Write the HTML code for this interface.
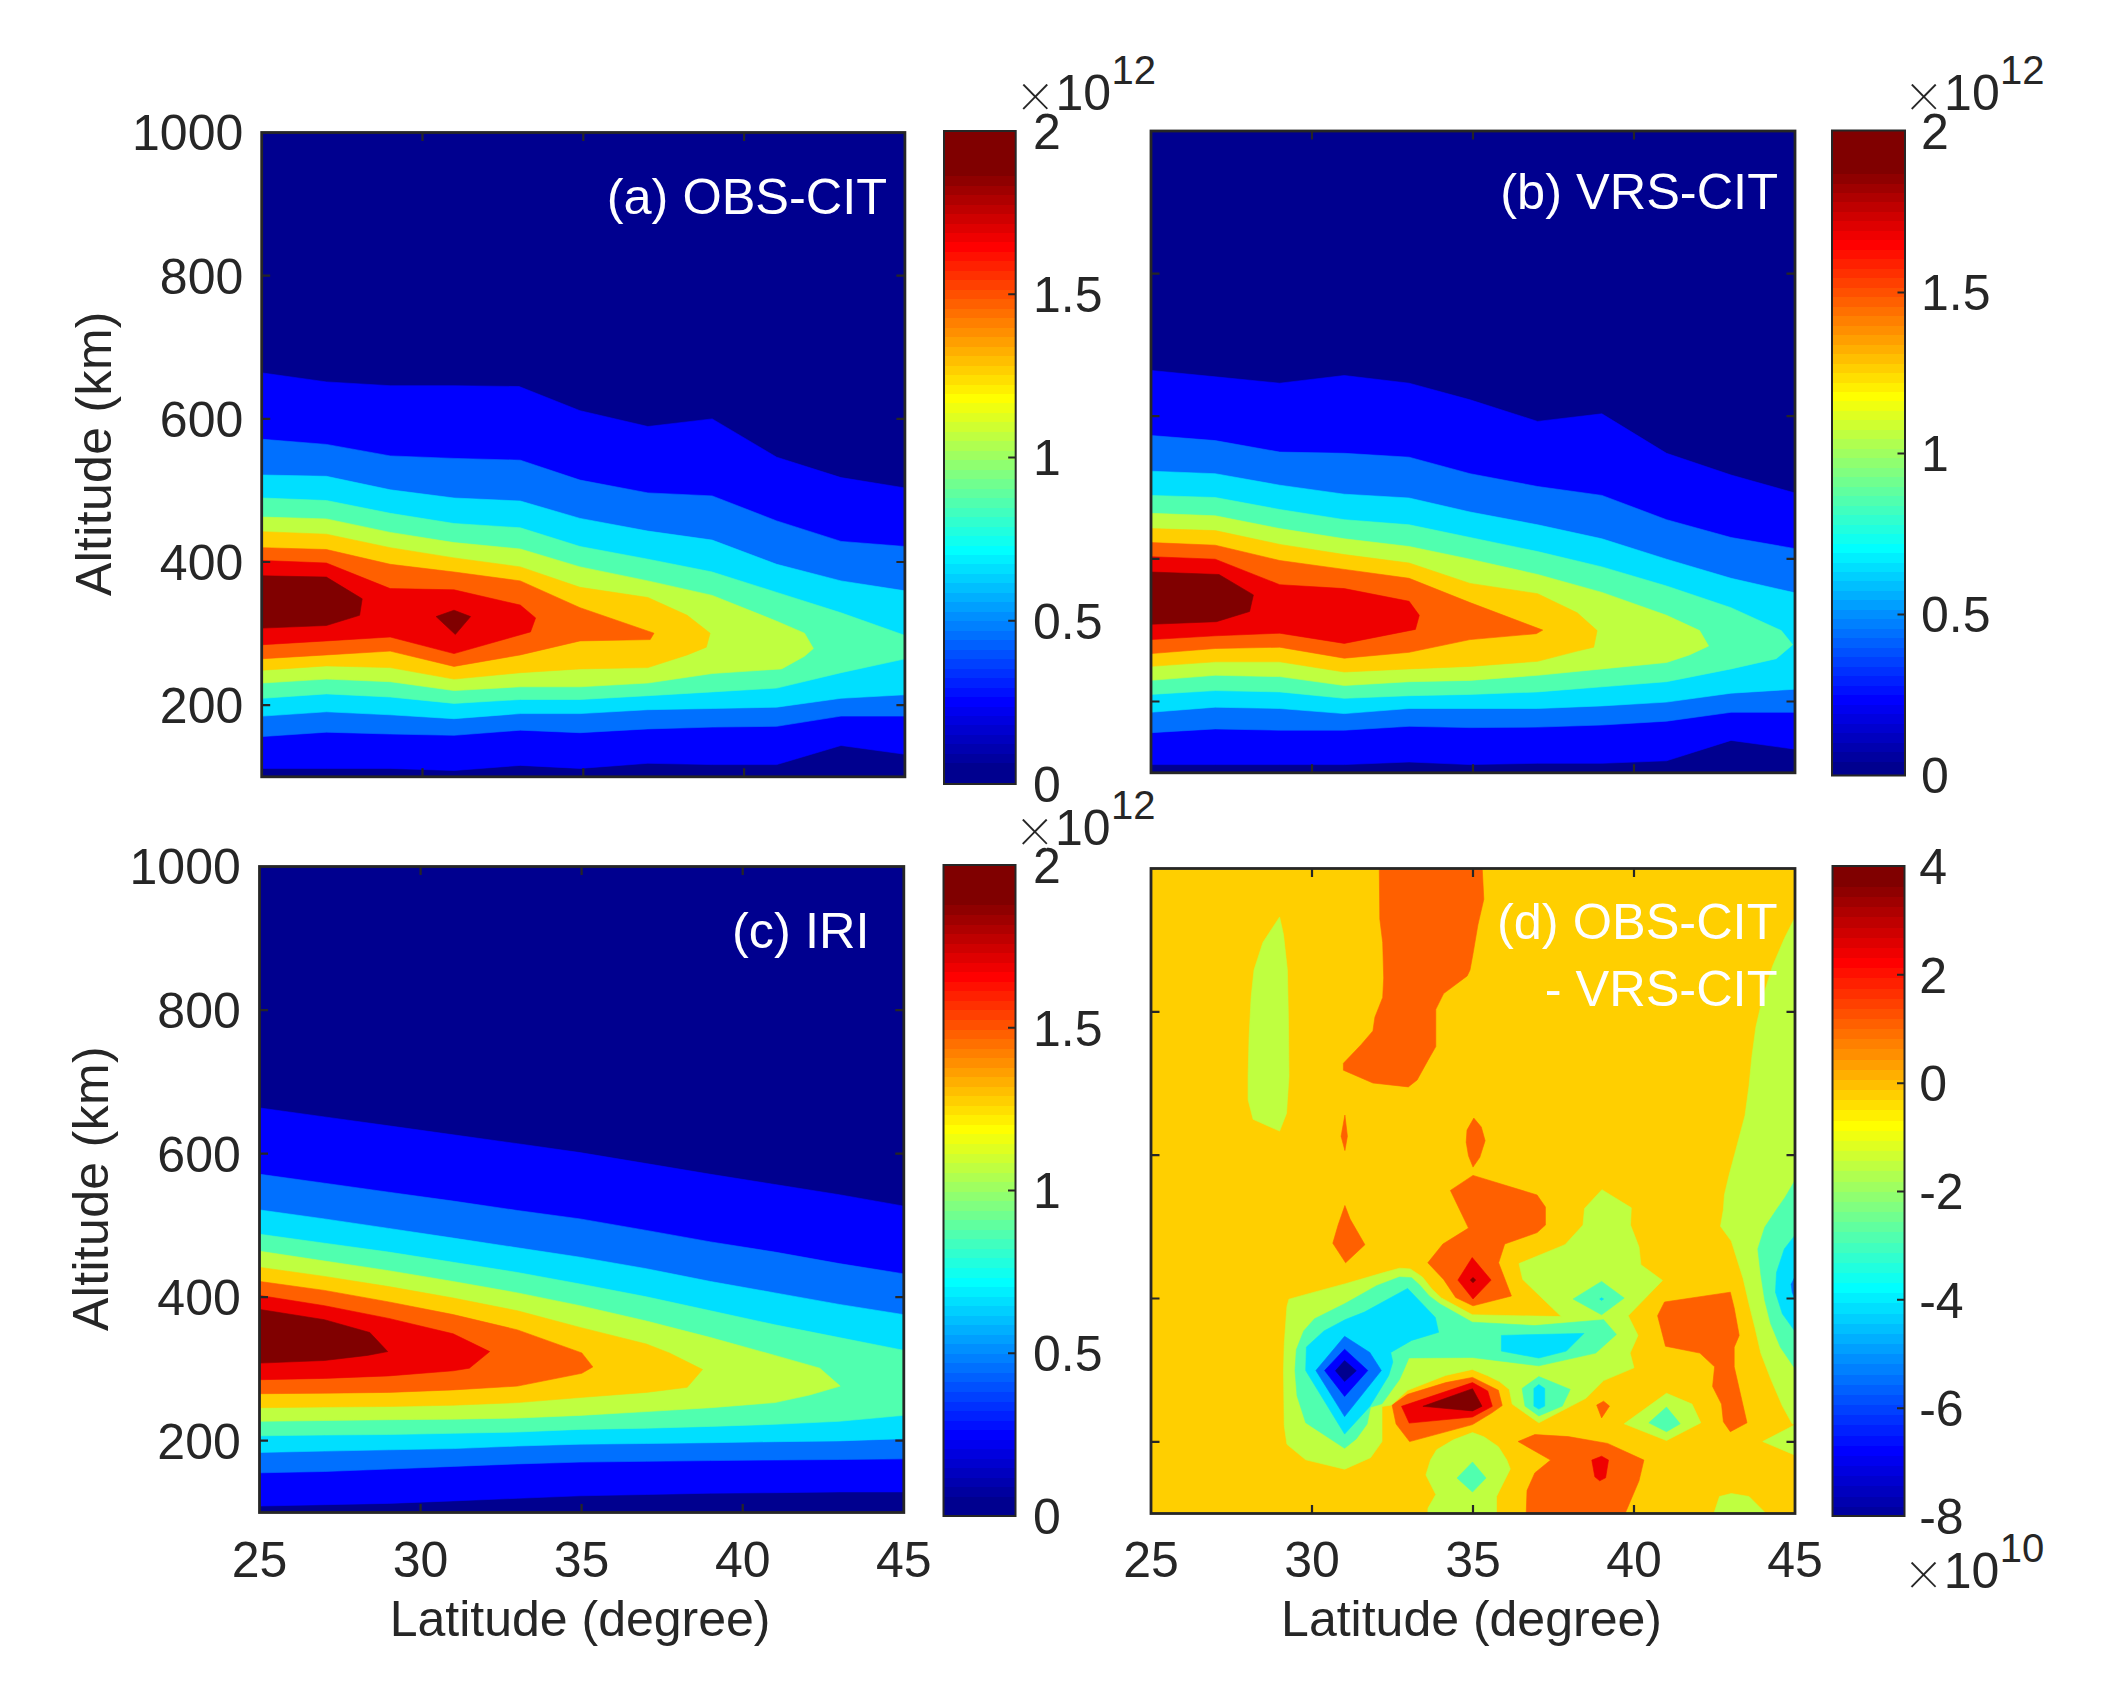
<!DOCTYPE html>
<html lang="en"><head><meta charset="utf-8"><title>Ionospheric electron density: OBS-CIT, VRS-CIT, IRI</title>
<style>html,body{margin:0;padding:0;background:#fff}svg{display:block}text{font-family:"Liberation Sans", Arial, sans-serif;font-size:50px;fill:#262626}</style></head><body>
<svg width="2123" height="1705" viewBox="0 0 2123 1705">
<rect width="2123" height="1705" fill="#fff"/>
<clipPath id="cpa"><rect x="261.7" y="132.5" width="643.2" height="644.3"/></clipPath>
<g clip-path="url(#cpa)" shape-rendering="geometricPrecision">
<rect x="261.7" y="132.5" width="643.2" height="644.3" fill="#00008F"/>
<polygon fill="#0000FF" stroke="#0000FF" stroke-width="0.6" points="242.2,372.5 262.7,373.0 326.4,381.9 390.2,385.7 454.0,385.7 519.1,386.5 580.0,410.7 647.9,426.5 712.2,418.9 776.7,457.2 841.0,477.6 911.7,489.0 911.7,755.2 841.0,745.5 776.7,764.6 712.2,764.6 647.9,763.3 580.0,768.4 520.3,765.4 454.0,770.5 390.2,768.4 326.4,768.4 262.7,768.4 242.2,768.4"/>
<polygon fill="#0070FF" stroke="#0070FF" stroke-width="0.6" points="242.2,438.8 262.7,439.3 326.4,444.4 390.2,455.9 454.0,458.4 520.3,460.2 580.0,480.1 647.9,492.9 712.2,495.9 776.7,520.9 841.0,541.4 911.7,547.0 911.7,716.1 841.0,716.1 776.7,726.3 712.2,727.1 647.9,728.9 580.0,732.7 520.3,730.2 454.0,735.3 390.2,734.0 326.4,732.2 262.7,736.5 242.2,736.8"/>
<polygon fill="#00DFFF" stroke="#00DFFF" stroke-width="0.6" points="242.2,474.5 262.7,475.0 326.4,476.3 390.2,489.8 454.0,498.0 520.3,501.0 580.0,518.4 647.9,531.1 712.2,540.1 776.7,564.3 841.0,580.9 911.7,591.9 911.7,694.4 841.0,698.3 776.7,707.2 712.2,708.5 647.9,709.7 580.0,713.6 520.3,713.6 454.0,718.7 390.2,714.8 326.4,711.8 262.7,716.1 242.2,716.4"/>
<polygon fill="#50FFAF" stroke="#50FFAF" stroke-width="0.6" points="242.2,497.5 262.7,498.0 326.4,500.5 390.2,513.3 454.0,523.5 520.3,527.8 580.0,546.5 647.9,559.2 712.2,572.0 776.7,592.4 841.0,612.8 911.7,637.8 911.7,657.4 841.0,672.7 776.7,688.1 712.2,691.9 647.9,695.7 580.0,699.5 520.3,699.5 454.0,703.4 390.2,697.0 326.4,693.9 262.7,698.3 242.2,698.5"/>
<polygon fill="#BFFF40" stroke="#BFFF40" stroke-width="0.6" points="242.2,516.9 262.7,517.1 326.4,518.9 390.2,532.4 454.0,542.6 520.3,549.0 580.0,566.9 647.9,580.9 712.2,595.4 776.7,621.2 804.5,633.2 813.4,648.5 804.5,656.2 781.6,668.9 712.2,673.5 647.9,683.0 580.0,686.8 520.3,686.8 454.0,690.6 390.2,681.7 326.4,679.1 262.7,683.0 242.2,683.2"/>
<polygon fill="#FFCF00" stroke="#FFCF00" stroke-width="0.6" points="242.2,531.4 262.7,531.7 326.4,534.2 390.2,547.7 454.0,557.9 520.3,566.9 580.0,587.3 647.9,597.5 687.2,615.3 710.1,633.2 706.3,647.2 687.2,654.9 647.9,667.6 580.0,668.9 520.3,672.7 454.0,679.1 390.2,667.6 326.4,665.9 262.7,670.2 242.2,670.4"/>
<polygon fill="#FF6000" stroke="#FF6000" stroke-width="0.6" points="242.2,547.5 262.7,547.7 326.4,549.5 390.2,564.3 454.0,572.0 520.3,580.9 580.0,607.7 654.0,633.2 650.2,639.6 580.0,640.9 520.3,654.9 454.0,666.4 390.2,651.1 326.4,654.9 262.7,658.7 242.2,659.0"/>
<polygon fill="#EF0000" stroke="#EF0000" stroke-width="0.6" points="242.2,560.2 262.7,560.5 326.4,563.0 390.2,588.6 454.0,589.8 520.3,605.1 535.6,617.9 530.5,631.9 454.0,653.6 390.2,637.0 326.4,640.9 262.7,644.7 242.2,644.9"/>
<polygon fill="#800000" stroke="#800000" stroke-width="0.6" points="242.2,575.8 262.7,575.8 326.4,577.1 362.2,598.8 359.6,615.3 326.4,625.5 262.7,628.1 242.2,628.1"/>
<polygon fill="#800000" stroke="#800000" stroke-width="0.6" points="436.1,616.6 454.0,610.2 470.6,616.6 455.3,634.5"/>
</g>
<path d="M422.5 776.8v-8.5M422.5 132.5v8.5M583.3 776.8v-8.5M583.3 132.5v8.5M744.1 776.8v-8.5M744.1 132.5v8.5M261.7 275.7h8.5M904.9 275.7h-8.5M261.7 418.9h8.5M904.9 418.9h-8.5M261.7 562.0h8.5M904.9 562.0h-8.5M261.7 705.2h8.5M904.9 705.2h-8.5" stroke="#262626" stroke-width="2.2" fill="none"/>
<rect x="261.7" y="132.5" width="643.2" height="644.3" fill="none" stroke="#262626" stroke-width="2.8"/>
<clipPath id="cpb"><rect x="1151.0" y="131.0" width="644.0" height="641.8"/></clipPath>
<g clip-path="url(#cpb)" shape-rendering="geometricPrecision">
<rect x="1151.0" y="131.0" width="644.0" height="641.8" fill="#00008F"/>
<polygon fill="#0000FF" stroke="#0000FF" stroke-width="0.6" points="1132.2,369.9 1150.6,370.4 1215.2,376.8 1279.7,383.2 1344.3,375.5 1409.1,383.2 1470.0,399.8 1537.6,421.4 1601.9,413.8 1666.5,453.3 1731.0,475.0 1801.7,494.9 1801.7,750.1 1731.0,740.4 1666.5,760.8 1601.9,763.3 1537.6,763.3 1470.0,764.6 1409.1,762.0 1344.3,764.6 1279.7,764.6 1215.2,764.6 1150.6,764.6 1132.2,764.6"/>
<polygon fill="#0070FF" stroke="#0070FF" stroke-width="0.6" points="1132.2,435.0 1150.6,435.5 1215.2,440.6 1279.7,452.1 1344.3,453.3 1409.1,457.2 1470.0,473.7 1537.6,486.5 1601.9,495.4 1666.5,519.7 1731.0,537.5 1801.7,549.8 1801.7,712.3 1731.0,712.3 1666.5,721.2 1601.9,725.0 1537.6,727.1 1470.0,727.6 1409.1,726.3 1344.3,730.2 1279.7,730.2 1215.2,728.9 1150.6,732.7 1132.2,733.0"/>
<polygon fill="#00DFFF" stroke="#00DFFF" stroke-width="0.6" points="1132.2,470.9 1150.6,471.2 1215.2,473.7 1279.7,485.2 1344.3,494.2 1409.1,498.0 1470.0,512.0 1537.6,524.8 1601.9,538.8 1666.5,559.2 1731.0,578.3 1801.7,594.4 1801.7,688.8 1731.0,693.2 1666.5,702.1 1601.9,705.9 1537.6,708.5 1470.0,708.5 1409.1,708.5 1344.3,713.6 1279.7,708.5 1215.2,707.2 1150.6,712.3 1132.2,712.5"/>
<polygon fill="#50FFAF" stroke="#50FFAF" stroke-width="0.6" points="1132.2,495.2 1150.6,495.4 1215.2,497.5 1279.7,509.5 1344.3,519.7 1409.1,524.8 1470.0,537.5 1537.6,551.6 1601.9,566.9 1666.5,586.0 1731.0,607.7 1781.3,630.6 1792.7,644.7 1776.2,658.7 1731.0,668.9 1666.5,681.7 1601.9,686.8 1537.6,691.9 1470.0,694.4 1409.1,695.7 1344.3,698.3 1279.7,691.9 1215.2,690.6 1150.6,694.4 1132.2,694.7"/>
<polygon fill="#BFFF40" stroke="#BFFF40" stroke-width="0.6" points="1132.2,513.0 1150.6,513.3 1215.2,515.8 1279.7,528.6 1344.3,538.8 1409.1,546.5 1470.0,559.2 1537.6,574.5 1601.9,592.4 1666.5,615.3 1699.6,630.6 1708.6,646.0 1689.4,654.9 1666.5,662.5 1601.9,668.9 1537.6,675.3 1470.0,680.4 1409.1,681.7 1344.3,685.5 1279.7,676.6 1215.2,675.3 1150.6,680.4 1132.2,680.7"/>
<polygon fill="#FFCF00" stroke="#FFCF00" stroke-width="0.6" points="1132.2,528.3 1150.6,528.6 1215.2,530.6 1279.7,544.4 1344.3,554.6 1409.1,563.0 1470.0,583.4 1537.6,593.7 1577.2,612.8 1597.1,630.6 1593.7,647.2 1577.2,651.1 1537.6,661.3 1470.0,666.4 1409.1,668.9 1344.3,672.0 1279.7,661.8 1215.2,661.8 1150.6,666.4 1132.2,666.6"/>
<polygon fill="#FF6000" stroke="#FF6000" stroke-width="0.6" points="1132.2,542.4 1150.6,542.6 1215.2,545.2 1279.7,560.5 1344.3,569.4 1409.1,578.3 1470.0,602.6 1542.7,630.1 1536.3,633.7 1470.0,639.6 1409.1,652.3 1344.3,658.2 1279.7,647.2 1215.2,648.5 1150.6,653.6 1132.2,653.9"/>
<polygon fill="#EF0000" stroke="#EF0000" stroke-width="0.6" points="1132.2,556.4 1150.6,556.7 1215.2,559.2 1279.7,584.7 1344.3,588.6 1409.1,601.3 1419.3,615.3 1415.4,629.4 1344.3,643.4 1279.7,633.2 1215.2,635.8 1150.6,639.6 1132.2,639.8"/>
<polygon fill="#800000" stroke="#800000" stroke-width="0.6" points="1132.2,572.0 1150.6,572.0 1219.0,574.5 1253.4,594.9 1249.6,611.5 1216.4,621.7 1150.6,624.3 1132.2,624.3"/>
</g>
<path d="M1312.0 772.8v-8.5M1312.0 131.0v8.5M1473.0 772.8v-8.5M1473.0 131.0v8.5M1634.0 772.8v-8.5M1634.0 131.0v8.5M1151.0 273.6h8.5M1795.0 273.6h-8.5M1151.0 416.2h8.5M1795.0 416.2h-8.5M1151.0 558.9h8.5M1795.0 558.9h-8.5M1151.0 701.5h8.5M1795.0 701.5h-8.5" stroke="#262626" stroke-width="2.2" fill="none"/>
<rect x="1151.0" y="131.0" width="644.0" height="641.8" fill="none" stroke="#262626" stroke-width="2.8"/>
<clipPath id="cpc"><rect x="259.5" y="866.5" width="644.3" height="646.0"/></clipPath>
<g clip-path="url(#cpc)" shape-rendering="geometricPrecision">
<rect x="259.5" y="866.5" width="644.3" height="646.0" fill="#00008F"/>
<polygon fill="#0000FF" stroke="#0000FF" stroke-width="0.6" points="242.2,1105.4 260.1,1108.0 324.4,1116.9 388.7,1125.8 453.2,1134.8 517.5,1143.7 580.0,1152.6 646.3,1163.6 710.6,1174.3 774.9,1184.5 839.2,1194.7 911.7,1207.5 911.7,1491.9 839.2,1491.9 774.9,1492.7 710.6,1493.2 646.3,1494.5 580.0,1495.8 517.5,1498.3 453.2,1500.9 388.7,1503.4 324.4,1504.7 260.1,1506.0 242.2,1506.0"/>
<polygon fill="#0070FF" stroke="#0070FF" stroke-width="0.6" points="242.2,1171.7 260.1,1174.3 324.4,1183.2 388.7,1192.2 453.2,1201.1 517.5,1210.5 580.0,1218.9 646.3,1230.4 710.6,1241.9 774.9,1252.1 839.2,1263.6 911.7,1275.1 911.7,1458.8 839.2,1459.5 774.9,1460.0 710.6,1460.6 646.3,1461.3 580.0,1462.1 517.5,1463.9 453.2,1466.4 388.7,1469.0 324.4,1471.5 260.1,1472.8 242.2,1472.8"/>
<polygon fill="#00DFFF" stroke="#00DFFF" stroke-width="0.6" points="242.2,1207.5 260.1,1210.0 324.4,1218.9 388.7,1228.4 453.2,1238.1 517.5,1247.8 580.0,1257.2 646.3,1268.7 710.6,1281.5 774.9,1292.9 839.2,1304.4 911.7,1315.9 911.7,1438.4 839.2,1440.9 774.9,1441.7 710.6,1442.7 646.3,1443.5 580.0,1444.2 517.5,1446.0 453.2,1448.6 388.7,1449.8 324.4,1451.1 260.1,1452.4 242.2,1452.4"/>
<polygon fill="#50FFAF" stroke="#50FFAF" stroke-width="0.6" points="242.2,1231.7 260.1,1234.3 324.4,1243.2 388.7,1252.1 453.2,1262.3 517.5,1272.5 580.0,1284.0 646.3,1296.8 710.6,1310.8 774.9,1324.8 839.2,1337.6 911.7,1351.9 911.7,1414.6 839.2,1421.3 774.9,1424.3 710.6,1426.4 646.3,1428.2 580.0,1429.4 517.5,1432.0 453.2,1433.3 388.7,1434.5 324.4,1435.0 260.1,1435.8 242.2,1435.8"/>
<polygon fill="#BFFF40" stroke="#BFFF40" stroke-width="0.6" points="242.2,1248.8 260.1,1251.3 324.4,1261.0 388.7,1270.7 453.2,1281.5 517.5,1292.9 580.0,1305.7 646.3,1321.0 710.6,1337.6 774.9,1355.4 819.8,1368.2 840.2,1386.1 809.6,1395.0 774.9,1402.6 710.6,1407.7 646.3,1411.6 580.0,1415.4 517.5,1418.0 453.2,1419.2 388.7,1419.7 324.4,1420.5 260.1,1421.3 242.2,1421.3"/>
<polygon fill="#FFCF00" stroke="#FFCF00" stroke-width="0.6" points="242.2,1264.9 260.1,1267.4 324.4,1276.4 388.7,1286.6 453.2,1298.0 517.5,1310.8 580.0,1327.4 646.3,1344.0 669.3,1352.9 702.5,1369.5 687.2,1387.3 646.3,1392.4 580.0,1397.5 517.5,1402.6 453.2,1405.2 388.7,1406.5 324.4,1407.0 260.1,1407.7 242.2,1407.7"/>
<polygon fill="#FF6000" stroke="#FF6000" stroke-width="0.6" points="242.2,1278.9 260.1,1281.5 324.4,1290.4 388.7,1301.9 453.2,1314.6 517.5,1329.9 581.8,1352.9 592.8,1366.9 581.8,1373.3 517.5,1386.1 453.2,1389.9 388.7,1392.4 324.4,1393.2 260.1,1393.7 242.2,1393.7"/>
<polygon fill="#EF0000" stroke="#EF0000" stroke-width="0.6" points="242.2,1292.9 260.1,1295.5 324.4,1305.7 388.7,1318.4 453.2,1333.8 489.7,1351.6 469.3,1368.2 453.2,1370.8 388.7,1375.9 324.4,1378.4 260.1,1379.7 242.2,1379.7"/>
<polygon fill="#800000" stroke="#800000" stroke-width="0.6" points="242.2,1307.0 260.1,1309.5 324.4,1319.7 369.8,1332.5 387.7,1351.6 367.3,1355.4 324.4,1360.5 260.1,1363.1 242.2,1363.1"/>
</g>
<path d="M420.6 1512.5v-8.5M420.6 866.5v8.5M581.6 1512.5v-8.5M581.6 866.5v8.5M742.7 1512.5v-8.5M742.7 866.5v8.5M259.5 1010.1h8.5M903.8 1010.1h-8.5M259.5 1153.6h8.5M903.8 1153.6h-8.5M259.5 1297.2h8.5M903.8 1297.2h-8.5M259.5 1440.7h8.5M903.8 1440.7h-8.5" stroke="#262626" stroke-width="2.2" fill="none"/>
<rect x="259.5" y="866.5" width="644.3" height="646.0" fill="none" stroke="#262626" stroke-width="2.8"/>
<clipPath id="cpd"><rect x="1151.0" y="868.5" width="644.0" height="645.0"/></clipPath>
<g clip-path="url(#cpd)" shape-rendering="geometricPrecision">
<rect x="1151.0" y="868.5" width="644.0" height="645.0" fill="#FFCF00"/>
<polygon fill="#FF6000" stroke="#FF6000" stroke-width="0.6" points="1379.2,860.0 1379.8,918.9 1382.7,942.5 1383.7,977.9 1382.7,997.5 1374.9,1017.2 1372.9,1030.9 1361.1,1044.7 1343.4,1063.3 1343.4,1070.2 1372.9,1083.0 1408.3,1086.9 1417.1,1080.0 1427.9,1060.4 1435.8,1046.6 1435.8,1009.3 1443.6,993.6 1467.2,975.9 1470.0,970.0 1472.9,954.3 1477.9,924.8 1483.8,899.3 1481.8,860.0"/>
<polygon fill="#FF6000" stroke="#FF6000" stroke-width="0.6" points="1344.9,1115.1 1341.1,1136.2 1344.9,1150.5 1347.4,1136.2"/>
<polygon fill="#FF6000" stroke="#FF6000" stroke-width="0.6" points="1473.8,1118.1 1467.0,1130.1 1466.2,1142.2 1468.5,1155.8 1473.0,1167.1 1479.8,1157.3 1485.1,1140.7 1481.3,1127.1"/>
<polygon fill="#FF6000" stroke="#FF6000" stroke-width="0.6" points="1344.9,1205.5 1338.1,1225.1 1332.8,1243.2 1345.6,1262.8 1364.9,1244.7 1350.1,1219.1"/>
<polygon fill="#FF6000" stroke="#FF6000" stroke-width="0.6" points="1473.0,1175.4 1537.1,1195.0 1545.4,1207.0 1545.4,1225.1 1537.1,1232.6 1504.7,1244.0 1498.6,1262.8 1511.4,1296.0 1473.0,1305.8 1455.7,1297.5 1443.6,1279.4 1427.8,1262.8 1442.9,1244.0 1468.5,1228.1 1450.4,1190.4"/>
<polygon fill="#FF6000" stroke="#FF6000" stroke-width="0.6" points="1392.1,1405.1 1407.6,1394.3 1445.8,1382.6 1472.5,1377.4 1498.4,1390.3 1502.2,1405.5 1491.5,1413.1 1472.5,1424.6 1409.6,1441.6 1396.1,1424.0"/>
<polygon fill="#FF6000" stroke="#FF6000" stroke-width="0.6" points="1657.6,1315.7 1664.5,1302.0 1730.3,1292.2 1734.2,1307.9 1739.2,1335.4 1734.2,1347.2 1734.2,1366.8 1747.0,1422.8 1730.3,1431.7 1723.4,1421.8 1721.5,1404.1 1712.6,1386.5 1714.6,1366.8 1699.9,1353.1 1665.5,1346.2"/>
<polygon fill="#FF6000" stroke="#FF6000" stroke-width="0.6" points="1596.7,1405.1 1603.6,1401.2 1609.5,1406.1 1601.6,1417.9"/>
<polygon fill="#FF6000" stroke="#FF6000" stroke-width="0.6" points="1518.1,1441.5 1534.8,1434.6 1568.2,1436.6 1607.5,1443.4 1643.9,1460.1 1639.0,1480.8 1622.3,1520.1 1526.0,1520.1 1527.0,1490.6 1534.8,1472.9 1550.6,1460.1"/>
<polygon fill="#EF0000" stroke="#EF0000" stroke-width="0.6" points="1472.2,1257.5 1491.1,1280.1 1473.0,1299.0 1457.9,1280.1"/>
<polygon fill="#EF0000" stroke="#EF0000" stroke-width="0.6" points="1401.5,1406.3 1472.5,1382.6 1487.7,1391.0 1492.3,1406.3 1472.5,1417.0 1409.2,1423.1"/>
<polygon fill="#EF0000" stroke="#EF0000" stroke-width="0.6" points="1591.8,1460.1 1601.6,1456.2 1608.5,1460.1 1605.6,1477.8 1599.7,1480.8 1594.8,1476.8"/>
<polygon fill="#800000" stroke="#800000" stroke-width="0.6" points="1473.0,1277.4 1475.7,1280.1 1473.0,1282.8 1470.3,1280.1"/>
<polygon fill="#800000" stroke="#800000" stroke-width="0.6" points="1422.9,1406.3 1472.5,1388.7 1482.0,1406.3 1472.5,1410.9"/>
<polygon fill="#BFFF40" stroke="#BFFF40" stroke-width="0.6" points="1279.6,917.0 1262.9,942.5 1254.0,970.0 1251.1,997.5 1249.1,1036.8 1248.1,1076.1 1248.1,1099.7 1253.1,1119.3 1279.6,1131.1 1286.5,1113.4 1289.0,1076.1 1288.4,1017.2 1287.4,970.0 1283.5,934.7"/>
<polygon fill="#BFFF40" stroke="#BFFF40" stroke-width="0.6" points="1807.9,905.2 1794.2,918.9 1784.3,938.6 1772.6,966.1 1762.7,997.5 1755.9,1027.0 1751.9,1056.5 1749.0,1085.9 1745.0,1115.4 1737.2,1144.9 1729.3,1174.3 1724.4,1194.9 1723.4,1209.6 1720.5,1226.3 1731.3,1241.1 1743.1,1278.4 1749.0,1303.9 1754.9,1327.5 1760.8,1353.1 1770.6,1378.6 1782.4,1406.1 1792.2,1423.8 1807.9,1425.8"/>
<polygon fill="#BFFF40" stroke="#BFFF40" stroke-width="0.6" points="1762.7,1441.5 1795.1,1424.8 1807.9,1421.8 1807.9,1457.2 1795.1,1455.2"/>
<polygon fill="#BFFF40" stroke="#BFFF40" stroke-width="0.6" points="1711.7,1520.1 1719.5,1496.5 1731.3,1493.5 1749.0,1496.5 1764.7,1512.2 1768.6,1520.1"/>
<polygon fill="#BFFF40" stroke="#BFFF40" stroke-width="0.6" points="1624.2,1423.8 1666.5,1393.3 1692.0,1404.1 1700.8,1422.8 1666.5,1440.5"/>
<polygon fill="#BFFF40" stroke="#BFFF40" stroke-width="0.6" points="1427.9,1520.1 1427.9,1508.3 1435.8,1494.5 1425.9,1474.9 1430.5,1460.0 1436.6,1449.8 1453.4,1439.8 1472.5,1432.6 1483.9,1436.8 1498.4,1446.7 1506.8,1460.0 1510.3,1469.0 1496.5,1496.5 1496.5,1520.1"/>
<polygon fill="#BFFF40" stroke="#BFFF40" stroke-width="0.6" points="1288.9,1299.2 1310.5,1293.2 1345.5,1283.7 1384.7,1272.3 1399.5,1268.2 1410.3,1268.9 1422.4,1277.0 1431.9,1289.1 1441.3,1297.9 1472.3,1314.8 1561.2,1316.6 1522.7,1279.4 1519.0,1263.6 1565.0,1244.7 1583.0,1225.1 1584.5,1208.5 1601.9,1189.7 1631.3,1207.8 1630.5,1225.1 1639.0,1247.0 1640.9,1264.7 1662.5,1280.4 1628.2,1315.7 1638.0,1335.4 1630.1,1353.1 1634.0,1367.8 1603.6,1380.6 1585.9,1398.3 1538.8,1422.8 1512.2,1404.1 1509.3,1389.4 1499.5,1381.6 1487.7,1375.7 1472.3,1369.4 1445.4,1375.5 1407.6,1390.3 1391.4,1405.1 1382.0,1406.5 1382.0,1441.6 1370.5,1457.7 1344.6,1469.2 1305.7,1459.8 1286.9,1444.3 1284.2,1425.4 1283.5,1370.5 1284.2,1344.4 1286.9,1306.7"/>
<polygon fill="#50FFAF" stroke="#50FFAF" stroke-width="0.6" points="1807.9,1168.4 1795.1,1180.2 1785.3,1196.9 1776.5,1209.6 1764.7,1227.3 1757.8,1248.9 1760.8,1274.5 1764.7,1300.0 1770.6,1323.6 1780.4,1347.2 1795.1,1368.8 1807.9,1378.6"/>
<polygon fill="#50FFAF" stroke="#50FFAF" stroke-width="0.6" points="1648.8,1422.8 1666.5,1407.1 1680.2,1423.8 1666.5,1431.7"/>
<polygon fill="#50FFAF" stroke="#50FFAF" stroke-width="0.6" points="1457.0,1478.0 1472.5,1462.0 1486.0,1478.0 1472.5,1492.0"/>
<polygon fill="#50FFAF" stroke="#50FFAF" stroke-width="0.6" points="1295.0,1370.5 1296.3,1349.8 1303.7,1330.9 1314.5,1318.8 1345.5,1303.3 1376.6,1285.7 1399.5,1277.0 1411.6,1277.7 1419.7,1285.1 1429.2,1295.9 1440.0,1304.0 1472.3,1322.2 1534.8,1325.6 1603.6,1319.7 1616.4,1334.4 1595.7,1353.1 1538.8,1365.8 1472.3,1357.5 1408.9,1357.9 1404.9,1367.4 1399.5,1379.5 1382.0,1403.8 1370.5,1407.2 1367.1,1424.0 1356.3,1438.9 1344.6,1448.3 1305.7,1422.7 1297.0,1395.7"/>
<polygon fill="#50FFAF" stroke="#50FFAF" stroke-width="0.6" points="1573.1,1299.0 1601.6,1281.4 1624.2,1298.1 1601.6,1314.8"/>
<polygon fill="#50FFAF" stroke="#50FFAF" stroke-width="0.6" points="1522.1,1388.4 1538.8,1376.6 1570.2,1389.4 1562.3,1406.1 1538.8,1415.9 1525.0,1406.1"/>
<polygon fill="#00DFFF" stroke="#00DFFF" stroke-width="0.6" points="1807.9,1225.4 1795.1,1235.2 1784.3,1248.9 1776.5,1272.5 1775.5,1292.2 1782.4,1313.8 1795.1,1331.5 1807.9,1341.3"/>
<polygon fill="#00DFFF" stroke="#00DFFF" stroke-width="0.6" points="1305.7,1370.5 1306.4,1347.1 1324.0,1330.9 1345.5,1319.5 1364.4,1312.1 1407.6,1288.4 1435.3,1317.4 1438.6,1332.3 1411.6,1340.4 1390.7,1352.5 1392.8,1362.0 1388.7,1375.5 1369.8,1406.5 1344.6,1434.1"/>
<polygon fill="#00DFFF" stroke="#00DFFF" stroke-width="0.6" points="1501.4,1335.4 1583.9,1333.4 1566.3,1351.1 1538.8,1358.0 1501.4,1351.1"/>
<polygon fill="#00DFFF" stroke="#00DFFF" stroke-width="0.6" points="1599.7,1299.0 1601.6,1297.7 1603.6,1299.0 1601.6,1300.4"/>
<polygon fill="#00DFFF" stroke="#00DFFF" stroke-width="0.6" points="1533.9,1388.4 1538.8,1384.5 1544.7,1388.4 1544.7,1406.1 1538.8,1409.1 1533.9,1406.1"/>
<polygon fill="#0070FF" stroke="#0070FF" stroke-width="0.6" points="1807.9,1270.6 1795.1,1276.4 1791.2,1284.3 1792.2,1292.2 1795.1,1300.0 1807.9,1305.9"/>
<polygon fill="#0070FF" stroke="#0070FF" stroke-width="0.6" points="1344.6,1336.3 1369.8,1352.5 1381.3,1370.5 1344.6,1416.6 1315.9,1370.5"/>
<polygon fill="#0000FF" stroke="#0000FF" stroke-width="0.6" points="1344.6,1349.2 1367.8,1370.5 1344.6,1396.4 1324.6,1370.5"/>
<polygon fill="#00008F" stroke="#00008F" stroke-width="0.6" points="1344.6,1360.6 1356.3,1370.7 1344.6,1381.5 1335.4,1370.7"/>
</g>
<path d="M1312.0 1513.5v-8.5M1312.0 868.5v8.5M1473.0 1513.5v-8.5M1473.0 868.5v8.5M1634.0 1513.5v-8.5M1634.0 868.5v8.5M1151.0 1011.8h8.5M1795.0 1011.8h-8.5M1151.0 1155.2h8.5M1795.0 1155.2h-8.5M1151.0 1298.5h8.5M1795.0 1298.5h-8.5M1151.0 1441.8h8.5M1795.0 1441.8h-8.5" stroke="#262626" stroke-width="2.2" fill="none"/>
<rect x="1151.0" y="868.5" width="644.0" height="645.0" fill="none" stroke="#262626" stroke-width="2.8"/>
<clipPath id="cba"><rect x="944.0" y="131.0" width="71.7" height="653.0"/></clipPath>
<g clip-path="url(#cba)" shape-rendering="crispEdges">
<rect x="944.0" y="131.0" width="71.7" height="326.5" fill="#800000"/>
<rect x="944.0" y="457.5" width="71.7" height="326.5" fill="#00008F"/>
<rect x="944.0" y="762.83" width="71.7" height="9.97" fill="#00008F"/>
<rect x="944.0" y="753.36" width="71.7" height="9.97" fill="#00009F"/>
<rect x="944.0" y="743.89" width="71.7" height="9.97" fill="#0000AF"/>
<rect x="944.0" y="734.42" width="71.7" height="9.97" fill="#0000BF"/>
<rect x="944.0" y="724.95" width="71.7" height="9.97" fill="#0000CF"/>
<rect x="944.0" y="715.48" width="71.7" height="9.97" fill="#0000DF"/>
<rect x="944.0" y="706.01" width="71.7" height="9.97" fill="#0000EF"/>
<rect x="944.0" y="696.54" width="71.7" height="9.97" fill="#0000FF"/>
<rect x="944.0" y="687.07" width="71.7" height="9.97" fill="#0010FF"/>
<rect x="944.0" y="677.60" width="71.7" height="9.97" fill="#0020FF"/>
<rect x="944.0" y="668.13" width="71.7" height="9.97" fill="#0030FF"/>
<rect x="944.0" y="658.66" width="71.7" height="9.97" fill="#0040FF"/>
<rect x="944.0" y="649.19" width="71.7" height="9.97" fill="#0050FF"/>
<rect x="944.0" y="639.72" width="71.7" height="9.97" fill="#0060FF"/>
<rect x="944.0" y="630.25" width="71.7" height="9.97" fill="#0070FF"/>
<rect x="944.0" y="620.78" width="71.7" height="9.97" fill="#0080FF"/>
<rect x="944.0" y="611.31" width="71.7" height="9.97" fill="#008FFF"/>
<rect x="944.0" y="601.84" width="71.7" height="9.97" fill="#009FFF"/>
<rect x="944.0" y="592.37" width="71.7" height="9.97" fill="#00AFFF"/>
<rect x="944.0" y="582.90" width="71.7" height="9.97" fill="#00BFFF"/>
<rect x="944.0" y="573.43" width="71.7" height="9.97" fill="#00CFFF"/>
<rect x="944.0" y="563.96" width="71.7" height="9.97" fill="#00DFFF"/>
<rect x="944.0" y="554.49" width="71.7" height="9.97" fill="#00EFFF"/>
<rect x="944.0" y="545.02" width="71.7" height="9.97" fill="#00FFFF"/>
<rect x="944.0" y="535.55" width="71.7" height="9.97" fill="#10FFEF"/>
<rect x="944.0" y="526.08" width="71.7" height="9.97" fill="#20FFDF"/>
<rect x="944.0" y="516.61" width="71.7" height="9.97" fill="#30FFCF"/>
<rect x="944.0" y="507.14" width="71.7" height="9.97" fill="#40FFBF"/>
<rect x="944.0" y="497.67" width="71.7" height="9.97" fill="#50FFAF"/>
<rect x="944.0" y="488.20" width="71.7" height="9.97" fill="#60FF9F"/>
<rect x="944.0" y="478.73" width="71.7" height="9.97" fill="#70FF8F"/>
<rect x="944.0" y="469.26" width="71.7" height="9.97" fill="#80FF80"/>
<rect x="944.0" y="459.79" width="71.7" height="9.97" fill="#8FFF70"/>
<rect x="944.0" y="450.32" width="71.7" height="9.97" fill="#9FFF60"/>
<rect x="944.0" y="440.85" width="71.7" height="9.97" fill="#AFFF50"/>
<rect x="944.0" y="431.38" width="71.7" height="9.97" fill="#BFFF40"/>
<rect x="944.0" y="421.91" width="71.7" height="9.97" fill="#CFFF30"/>
<rect x="944.0" y="412.44" width="71.7" height="9.97" fill="#DFFF20"/>
<rect x="944.0" y="402.97" width="71.7" height="9.97" fill="#EFFF10"/>
<rect x="944.0" y="393.50" width="71.7" height="9.97" fill="#FFFF00"/>
<rect x="944.0" y="384.03" width="71.7" height="9.97" fill="#FFEF00"/>
<rect x="944.0" y="374.56" width="71.7" height="9.97" fill="#FFDF00"/>
<rect x="944.0" y="365.09" width="71.7" height="9.97" fill="#FFCF00"/>
<rect x="944.0" y="355.62" width="71.7" height="9.97" fill="#FFBF00"/>
<rect x="944.0" y="346.15" width="71.7" height="9.97" fill="#FFAF00"/>
<rect x="944.0" y="336.68" width="71.7" height="9.97" fill="#FF9F00"/>
<rect x="944.0" y="327.21" width="71.7" height="9.97" fill="#FF8F00"/>
<rect x="944.0" y="317.74" width="71.7" height="9.97" fill="#FF8000"/>
<rect x="944.0" y="308.27" width="71.7" height="9.97" fill="#FF7000"/>
<rect x="944.0" y="298.80" width="71.7" height="9.97" fill="#FF6000"/>
<rect x="944.0" y="289.33" width="71.7" height="9.97" fill="#FF5000"/>
<rect x="944.0" y="279.86" width="71.7" height="9.97" fill="#FF4000"/>
<rect x="944.0" y="270.39" width="71.7" height="9.97" fill="#FF3000"/>
<rect x="944.0" y="260.92" width="71.7" height="9.97" fill="#FF2000"/>
<rect x="944.0" y="251.45" width="71.7" height="9.97" fill="#FF1000"/>
<rect x="944.0" y="241.98" width="71.7" height="9.97" fill="#FF0000"/>
<rect x="944.0" y="232.51" width="71.7" height="9.97" fill="#EF0000"/>
<rect x="944.0" y="223.04" width="71.7" height="9.97" fill="#DF0000"/>
<rect x="944.0" y="213.57" width="71.7" height="9.97" fill="#CF0000"/>
<rect x="944.0" y="204.10" width="71.7" height="9.97" fill="#BF0000"/>
<rect x="944.0" y="194.63" width="71.7" height="9.97" fill="#AF0000"/>
<rect x="944.0" y="185.16" width="71.7" height="9.97" fill="#9F0000"/>
<rect x="944.0" y="175.69" width="71.7" height="9.97" fill="#8F0000"/>
<rect x="944.0" y="166.22" width="71.7" height="9.97" fill="#800000"/>
</g>
<text x="1033.0" y="148.9">2</text>
<text x="1033.0" y="312.1">1.5</text>
<text x="1033.0" y="475.4">1</text>
<text x="1033.0" y="638.6">0.5</text>
<text x="1033.0" y="801.9">0</text>
<path d="M1015.7 294.2h-7.5M1015.7 457.5h-7.5M1015.7 620.8h-7.5" stroke="#262626" stroke-width="2" fill="none"/>
<rect x="944.0" y="131.0" width="71.7" height="653.0" fill="none" stroke="#262626" stroke-width="2"/>
<clipPath id="cbb"><rect x="1832.0" y="130.5" width="73.0" height="645.0"/></clipPath>
<g clip-path="url(#cbb)" shape-rendering="crispEdges">
<rect x="1832.0" y="130.5" width="73.0" height="322.5" fill="#800000"/>
<rect x="1832.0" y="453.0" width="73.0" height="322.5" fill="#00008F"/>
<rect x="1832.0" y="761.02" width="73.0" height="9.97" fill="#00008F"/>
<rect x="1832.0" y="751.55" width="73.0" height="9.97" fill="#00009F"/>
<rect x="1832.0" y="742.08" width="73.0" height="9.97" fill="#0000AF"/>
<rect x="1832.0" y="732.60" width="73.0" height="9.97" fill="#0000BF"/>
<rect x="1832.0" y="723.12" width="73.0" height="9.97" fill="#0000CF"/>
<rect x="1832.0" y="713.65" width="73.0" height="9.97" fill="#0000DF"/>
<rect x="1832.0" y="704.17" width="73.0" height="9.97" fill="#0000EF"/>
<rect x="1832.0" y="694.70" width="73.0" height="9.97" fill="#0000FF"/>
<rect x="1832.0" y="685.23" width="73.0" height="9.97" fill="#0010FF"/>
<rect x="1832.0" y="675.75" width="73.0" height="9.97" fill="#0020FF"/>
<rect x="1832.0" y="666.27" width="73.0" height="9.97" fill="#0030FF"/>
<rect x="1832.0" y="656.80" width="73.0" height="9.97" fill="#0040FF"/>
<rect x="1832.0" y="647.33" width="73.0" height="9.97" fill="#0050FF"/>
<rect x="1832.0" y="637.85" width="73.0" height="9.97" fill="#0060FF"/>
<rect x="1832.0" y="628.38" width="73.0" height="9.97" fill="#0070FF"/>
<rect x="1832.0" y="618.90" width="73.0" height="9.97" fill="#0080FF"/>
<rect x="1832.0" y="609.42" width="73.0" height="9.97" fill="#008FFF"/>
<rect x="1832.0" y="599.95" width="73.0" height="9.97" fill="#009FFF"/>
<rect x="1832.0" y="590.48" width="73.0" height="9.97" fill="#00AFFF"/>
<rect x="1832.0" y="581.00" width="73.0" height="9.97" fill="#00BFFF"/>
<rect x="1832.0" y="571.52" width="73.0" height="9.97" fill="#00CFFF"/>
<rect x="1832.0" y="562.05" width="73.0" height="9.97" fill="#00DFFF"/>
<rect x="1832.0" y="552.58" width="73.0" height="9.97" fill="#00EFFF"/>
<rect x="1832.0" y="543.10" width="73.0" height="9.97" fill="#00FFFF"/>
<rect x="1832.0" y="533.62" width="73.0" height="9.97" fill="#10FFEF"/>
<rect x="1832.0" y="524.15" width="73.0" height="9.97" fill="#20FFDF"/>
<rect x="1832.0" y="514.67" width="73.0" height="9.97" fill="#30FFCF"/>
<rect x="1832.0" y="505.20" width="73.0" height="9.97" fill="#40FFBF"/>
<rect x="1832.0" y="495.73" width="73.0" height="9.97" fill="#50FFAF"/>
<rect x="1832.0" y="486.25" width="73.0" height="9.97" fill="#60FF9F"/>
<rect x="1832.0" y="476.78" width="73.0" height="9.97" fill="#70FF8F"/>
<rect x="1832.0" y="467.30" width="73.0" height="9.97" fill="#80FF80"/>
<rect x="1832.0" y="457.82" width="73.0" height="9.97" fill="#8FFF70"/>
<rect x="1832.0" y="448.35" width="73.0" height="9.97" fill="#9FFF60"/>
<rect x="1832.0" y="438.88" width="73.0" height="9.97" fill="#AFFF50"/>
<rect x="1832.0" y="429.40" width="73.0" height="9.97" fill="#BFFF40"/>
<rect x="1832.0" y="419.93" width="73.0" height="9.97" fill="#CFFF30"/>
<rect x="1832.0" y="410.45" width="73.0" height="9.97" fill="#DFFF20"/>
<rect x="1832.0" y="400.98" width="73.0" height="9.97" fill="#EFFF10"/>
<rect x="1832.0" y="391.50" width="73.0" height="9.97" fill="#FFFF00"/>
<rect x="1832.0" y="382.03" width="73.0" height="9.97" fill="#FFEF00"/>
<rect x="1832.0" y="372.55" width="73.0" height="9.97" fill="#FFDF00"/>
<rect x="1832.0" y="363.07" width="73.0" height="9.97" fill="#FFCF00"/>
<rect x="1832.0" y="353.60" width="73.0" height="9.97" fill="#FFBF00"/>
<rect x="1832.0" y="344.12" width="73.0" height="9.97" fill="#FFAF00"/>
<rect x="1832.0" y="334.65" width="73.0" height="9.97" fill="#FF9F00"/>
<rect x="1832.0" y="325.18" width="73.0" height="9.97" fill="#FF8F00"/>
<rect x="1832.0" y="315.70" width="73.0" height="9.97" fill="#FF8000"/>
<rect x="1832.0" y="306.23" width="73.0" height="9.97" fill="#FF7000"/>
<rect x="1832.0" y="296.75" width="73.0" height="9.97" fill="#FF6000"/>
<rect x="1832.0" y="287.28" width="73.0" height="9.97" fill="#FF5000"/>
<rect x="1832.0" y="277.80" width="73.0" height="9.97" fill="#FF4000"/>
<rect x="1832.0" y="268.33" width="73.0" height="9.97" fill="#FF3000"/>
<rect x="1832.0" y="258.85" width="73.0" height="9.97" fill="#FF2000"/>
<rect x="1832.0" y="249.38" width="73.0" height="9.97" fill="#FF1000"/>
<rect x="1832.0" y="239.90" width="73.0" height="9.97" fill="#FF0000"/>
<rect x="1832.0" y="230.43" width="73.0" height="9.97" fill="#EF0000"/>
<rect x="1832.0" y="220.95" width="73.0" height="9.97" fill="#DF0000"/>
<rect x="1832.0" y="211.48" width="73.0" height="9.97" fill="#CF0000"/>
<rect x="1832.0" y="202.00" width="73.0" height="9.97" fill="#BF0000"/>
<rect x="1832.0" y="192.52" width="73.0" height="9.97" fill="#AF0000"/>
<rect x="1832.0" y="183.05" width="73.0" height="9.97" fill="#9F0000"/>
<rect x="1832.0" y="173.58" width="73.0" height="9.97" fill="#8F0000"/>
<rect x="1832.0" y="164.10" width="73.0" height="9.97" fill="#800000"/>
</g>
<text x="1921.0" y="149.4">2</text>
<text x="1921.0" y="310.4">1.5</text>
<text x="1921.0" y="471.4">1</text>
<text x="1921.0" y="632.4">0.5</text>
<text x="1921.0" y="793.4">0</text>
<path d="M1905.0 292.5h-7.5M1905.0 453.5h-7.5M1905.0 614.5h-7.5" stroke="#262626" stroke-width="2" fill="none"/>
<rect x="1832.0" y="130.5" width="73.0" height="645.0" fill="none" stroke="#262626" stroke-width="2"/>
<clipPath id="cbc"><rect x="943.5" y="865.0" width="72.0" height="651.0"/></clipPath>
<g clip-path="url(#cbc)" shape-rendering="crispEdges">
<rect x="943.5" y="865.0" width="72.0" height="325.5" fill="#800000"/>
<rect x="943.5" y="1190.5" width="72.0" height="325.5" fill="#00008F"/>
<rect x="943.5" y="1496.46" width="72.0" height="10.04" fill="#00008F"/>
<rect x="943.5" y="1486.92" width="72.0" height="10.04" fill="#00009F"/>
<rect x="943.5" y="1477.38" width="72.0" height="10.04" fill="#0000AF"/>
<rect x="943.5" y="1467.84" width="72.0" height="10.04" fill="#0000BF"/>
<rect x="943.5" y="1458.30" width="72.0" height="10.04" fill="#0000CF"/>
<rect x="943.5" y="1448.76" width="72.0" height="10.04" fill="#0000DF"/>
<rect x="943.5" y="1439.22" width="72.0" height="10.04" fill="#0000EF"/>
<rect x="943.5" y="1429.68" width="72.0" height="10.04" fill="#0000FF"/>
<rect x="943.5" y="1420.14" width="72.0" height="10.04" fill="#0010FF"/>
<rect x="943.5" y="1410.60" width="72.0" height="10.04" fill="#0020FF"/>
<rect x="943.5" y="1401.06" width="72.0" height="10.04" fill="#0030FF"/>
<rect x="943.5" y="1391.52" width="72.0" height="10.04" fill="#0040FF"/>
<rect x="943.5" y="1381.98" width="72.0" height="10.04" fill="#0050FF"/>
<rect x="943.5" y="1372.44" width="72.0" height="10.04" fill="#0060FF"/>
<rect x="943.5" y="1362.90" width="72.0" height="10.04" fill="#0070FF"/>
<rect x="943.5" y="1353.36" width="72.0" height="10.04" fill="#0080FF"/>
<rect x="943.5" y="1343.82" width="72.0" height="10.04" fill="#008FFF"/>
<rect x="943.5" y="1334.28" width="72.0" height="10.04" fill="#009FFF"/>
<rect x="943.5" y="1324.74" width="72.0" height="10.04" fill="#00AFFF"/>
<rect x="943.5" y="1315.20" width="72.0" height="10.04" fill="#00BFFF"/>
<rect x="943.5" y="1305.66" width="72.0" height="10.04" fill="#00CFFF"/>
<rect x="943.5" y="1296.12" width="72.0" height="10.04" fill="#00DFFF"/>
<rect x="943.5" y="1286.58" width="72.0" height="10.04" fill="#00EFFF"/>
<rect x="943.5" y="1277.04" width="72.0" height="10.04" fill="#00FFFF"/>
<rect x="943.5" y="1267.50" width="72.0" height="10.04" fill="#10FFEF"/>
<rect x="943.5" y="1257.96" width="72.0" height="10.04" fill="#20FFDF"/>
<rect x="943.5" y="1248.42" width="72.0" height="10.04" fill="#30FFCF"/>
<rect x="943.5" y="1238.88" width="72.0" height="10.04" fill="#40FFBF"/>
<rect x="943.5" y="1229.34" width="72.0" height="10.04" fill="#50FFAF"/>
<rect x="943.5" y="1219.80" width="72.0" height="10.04" fill="#60FF9F"/>
<rect x="943.5" y="1210.26" width="72.0" height="10.04" fill="#70FF8F"/>
<rect x="943.5" y="1200.72" width="72.0" height="10.04" fill="#80FF80"/>
<rect x="943.5" y="1191.18" width="72.0" height="10.04" fill="#8FFF70"/>
<rect x="943.5" y="1181.64" width="72.0" height="10.04" fill="#9FFF60"/>
<rect x="943.5" y="1172.10" width="72.0" height="10.04" fill="#AFFF50"/>
<rect x="943.5" y="1162.56" width="72.0" height="10.04" fill="#BFFF40"/>
<rect x="943.5" y="1153.02" width="72.0" height="10.04" fill="#CFFF30"/>
<rect x="943.5" y="1143.48" width="72.0" height="10.04" fill="#DFFF20"/>
<rect x="943.5" y="1133.94" width="72.0" height="10.04" fill="#EFFF10"/>
<rect x="943.5" y="1124.40" width="72.0" height="10.04" fill="#FFFF00"/>
<rect x="943.5" y="1114.86" width="72.0" height="10.04" fill="#FFEF00"/>
<rect x="943.5" y="1105.32" width="72.0" height="10.04" fill="#FFDF00"/>
<rect x="943.5" y="1095.78" width="72.0" height="10.04" fill="#FFCF00"/>
<rect x="943.5" y="1086.24" width="72.0" height="10.04" fill="#FFBF00"/>
<rect x="943.5" y="1076.70" width="72.0" height="10.04" fill="#FFAF00"/>
<rect x="943.5" y="1067.16" width="72.0" height="10.04" fill="#FF9F00"/>
<rect x="943.5" y="1057.62" width="72.0" height="10.04" fill="#FF8F00"/>
<rect x="943.5" y="1048.08" width="72.0" height="10.04" fill="#FF8000"/>
<rect x="943.5" y="1038.54" width="72.0" height="10.04" fill="#FF7000"/>
<rect x="943.5" y="1029.00" width="72.0" height="10.04" fill="#FF6000"/>
<rect x="943.5" y="1019.46" width="72.0" height="10.04" fill="#FF5000"/>
<rect x="943.5" y="1009.92" width="72.0" height="10.04" fill="#FF4000"/>
<rect x="943.5" y="1000.38" width="72.0" height="10.04" fill="#FF3000"/>
<rect x="943.5" y="990.84" width="72.0" height="10.04" fill="#FF2000"/>
<rect x="943.5" y="981.30" width="72.0" height="10.04" fill="#FF1000"/>
<rect x="943.5" y="971.76" width="72.0" height="10.04" fill="#FF0000"/>
<rect x="943.5" y="962.22" width="72.0" height="10.04" fill="#EF0000"/>
<rect x="943.5" y="952.68" width="72.0" height="10.04" fill="#DF0000"/>
<rect x="943.5" y="943.14" width="72.0" height="10.04" fill="#CF0000"/>
<rect x="943.5" y="933.60" width="72.0" height="10.04" fill="#BF0000"/>
<rect x="943.5" y="924.06" width="72.0" height="10.04" fill="#AF0000"/>
<rect x="943.5" y="914.52" width="72.0" height="10.04" fill="#9F0000"/>
<rect x="943.5" y="904.98" width="72.0" height="10.04" fill="#8F0000"/>
<rect x="943.5" y="895.44" width="72.0" height="10.04" fill="#800000"/>
</g>
<text x="1033.0" y="882.9">2</text>
<text x="1033.0" y="1045.7">1.5</text>
<text x="1033.0" y="1208.4">1</text>
<text x="1033.0" y="1371.2">0.5</text>
<text x="1033.0" y="1533.9">0</text>
<path d="M1015.5 1027.8h-7.5M1015.5 1190.5h-7.5M1015.5 1353.2h-7.5" stroke="#262626" stroke-width="2" fill="none"/>
<rect x="943.5" y="865.0" width="72.0" height="651.0" fill="none" stroke="#262626" stroke-width="2"/>
<clipPath id="cbd"><rect x="1832.5" y="866.0" width="72.0" height="650.0"/></clipPath>
<g clip-path="url(#cbd)" shape-rendering="crispEdges">
<rect x="1832.5" y="866.0" width="72.0" height="325.0" fill="#800000"/>
<rect x="1832.5" y="1191.0" width="72.0" height="325.0" fill="#00008F"/>
<rect x="1832.5" y="1516.34" width="72.0" height="10.66" fill="#00008F"/>
<rect x="1832.5" y="1506.18" width="72.0" height="10.66" fill="#00009F"/>
<rect x="1832.5" y="1496.02" width="72.0" height="10.66" fill="#0000AF"/>
<rect x="1832.5" y="1485.86" width="72.0" height="10.66" fill="#0000BF"/>
<rect x="1832.5" y="1475.70" width="72.0" height="10.66" fill="#0000CF"/>
<rect x="1832.5" y="1465.54" width="72.0" height="10.66" fill="#0000DF"/>
<rect x="1832.5" y="1455.38" width="72.0" height="10.66" fill="#0000EF"/>
<rect x="1832.5" y="1445.22" width="72.0" height="10.66" fill="#0000FF"/>
<rect x="1832.5" y="1435.06" width="72.0" height="10.66" fill="#0010FF"/>
<rect x="1832.5" y="1424.90" width="72.0" height="10.66" fill="#0020FF"/>
<rect x="1832.5" y="1414.74" width="72.0" height="10.66" fill="#0030FF"/>
<rect x="1832.5" y="1404.58" width="72.0" height="10.66" fill="#0040FF"/>
<rect x="1832.5" y="1394.42" width="72.0" height="10.66" fill="#0050FF"/>
<rect x="1832.5" y="1384.26" width="72.0" height="10.66" fill="#0060FF"/>
<rect x="1832.5" y="1374.10" width="72.0" height="10.66" fill="#0070FF"/>
<rect x="1832.5" y="1363.94" width="72.0" height="10.66" fill="#0080FF"/>
<rect x="1832.5" y="1353.78" width="72.0" height="10.66" fill="#008FFF"/>
<rect x="1832.5" y="1343.62" width="72.0" height="10.66" fill="#009FFF"/>
<rect x="1832.5" y="1333.46" width="72.0" height="10.66" fill="#00AFFF"/>
<rect x="1832.5" y="1323.30" width="72.0" height="10.66" fill="#00BFFF"/>
<rect x="1832.5" y="1313.14" width="72.0" height="10.66" fill="#00CFFF"/>
<rect x="1832.5" y="1302.98" width="72.0" height="10.66" fill="#00DFFF"/>
<rect x="1832.5" y="1292.82" width="72.0" height="10.66" fill="#00EFFF"/>
<rect x="1832.5" y="1282.66" width="72.0" height="10.66" fill="#00FFFF"/>
<rect x="1832.5" y="1272.50" width="72.0" height="10.66" fill="#10FFEF"/>
<rect x="1832.5" y="1262.34" width="72.0" height="10.66" fill="#20FFDF"/>
<rect x="1832.5" y="1252.18" width="72.0" height="10.66" fill="#30FFCF"/>
<rect x="1832.5" y="1242.02" width="72.0" height="10.66" fill="#40FFBF"/>
<rect x="1832.5" y="1231.86" width="72.0" height="10.66" fill="#50FFAF"/>
<rect x="1832.5" y="1221.70" width="72.0" height="10.66" fill="#60FF9F"/>
<rect x="1832.5" y="1211.54" width="72.0" height="10.66" fill="#70FF8F"/>
<rect x="1832.5" y="1201.38" width="72.0" height="10.66" fill="#80FF80"/>
<rect x="1832.5" y="1191.22" width="72.0" height="10.66" fill="#8FFF70"/>
<rect x="1832.5" y="1181.06" width="72.0" height="10.66" fill="#9FFF60"/>
<rect x="1832.5" y="1170.90" width="72.0" height="10.66" fill="#AFFF50"/>
<rect x="1832.5" y="1160.74" width="72.0" height="10.66" fill="#BFFF40"/>
<rect x="1832.5" y="1150.58" width="72.0" height="10.66" fill="#CFFF30"/>
<rect x="1832.5" y="1140.42" width="72.0" height="10.66" fill="#DFFF20"/>
<rect x="1832.5" y="1130.26" width="72.0" height="10.66" fill="#EFFF10"/>
<rect x="1832.5" y="1120.10" width="72.0" height="10.66" fill="#FFFF00"/>
<rect x="1832.5" y="1109.94" width="72.0" height="10.66" fill="#FFEF00"/>
<rect x="1832.5" y="1099.78" width="72.0" height="10.66" fill="#FFDF00"/>
<rect x="1832.5" y="1089.62" width="72.0" height="10.66" fill="#FFCF00"/>
<rect x="1832.5" y="1079.46" width="72.0" height="10.66" fill="#FFBF00"/>
<rect x="1832.5" y="1069.30" width="72.0" height="10.66" fill="#FFAF00"/>
<rect x="1832.5" y="1059.14" width="72.0" height="10.66" fill="#FF9F00"/>
<rect x="1832.5" y="1048.98" width="72.0" height="10.66" fill="#FF8F00"/>
<rect x="1832.5" y="1038.82" width="72.0" height="10.66" fill="#FF8000"/>
<rect x="1832.5" y="1028.66" width="72.0" height="10.66" fill="#FF7000"/>
<rect x="1832.5" y="1018.50" width="72.0" height="10.66" fill="#FF6000"/>
<rect x="1832.5" y="1008.34" width="72.0" height="10.66" fill="#FF5000"/>
<rect x="1832.5" y="998.18" width="72.0" height="10.66" fill="#FF4000"/>
<rect x="1832.5" y="988.02" width="72.0" height="10.66" fill="#FF3000"/>
<rect x="1832.5" y="977.86" width="72.0" height="10.66" fill="#FF2000"/>
<rect x="1832.5" y="967.70" width="72.0" height="10.66" fill="#FF1000"/>
<rect x="1832.5" y="957.54" width="72.0" height="10.66" fill="#FF0000"/>
<rect x="1832.5" y="947.38" width="72.0" height="10.66" fill="#EF0000"/>
<rect x="1832.5" y="937.22" width="72.0" height="10.66" fill="#DF0000"/>
<rect x="1832.5" y="927.06" width="72.0" height="10.66" fill="#CF0000"/>
<rect x="1832.5" y="916.90" width="72.0" height="10.66" fill="#BF0000"/>
<rect x="1832.5" y="906.74" width="72.0" height="10.66" fill="#AF0000"/>
<rect x="1832.5" y="896.58" width="72.0" height="10.66" fill="#9F0000"/>
<rect x="1832.5" y="886.42" width="72.0" height="10.66" fill="#8F0000"/>
<rect x="1832.5" y="876.26" width="72.0" height="10.66" fill="#800000"/>
</g>
<text x="1919.2" y="884.4">4</text>
<text x="1919.2" y="992.7">2</text>
<text x="1919.2" y="1101.1">0</text>
<text x="1919.2" y="1209.4">-2</text>
<text x="1919.2" y="1317.7">-4</text>
<text x="1919.2" y="1426.1">-6</text>
<text x="1919.2" y="1534.4">-8</text>
<path d="M1904.5 974.8h-7.5M1904.5 1083.2h-7.5M1904.5 1191.5h-7.5M1904.5 1299.8h-7.5M1904.5 1408.2h-7.5" stroke="#262626" stroke-width="2" fill="none"/>
<rect x="1832.5" y="866.0" width="72.0" height="650.0" fill="none" stroke="#262626" stroke-width="2"/>
<text x="1015.9" y="118.5" style="font-size:66px;stroke:#fff;stroke-width:2.8px">×</text>
<text x="1055.5" y="109.5">10</text>
<text x="1111.4" y="83.9" style="font-size:40px">12</text>
<text x="1904.5" y="118.5" style="font-size:66px;stroke:#fff;stroke-width:2.8px">×</text>
<text x="1944.1" y="109.5">10</text>
<text x="2000.0" y="83.9" style="font-size:40px">12</text>
<text x="1015.4" y="853.5" style="font-size:66px;stroke:#fff;stroke-width:2.8px">×</text>
<text x="1055.0" y="844.5">10</text>
<text x="1110.9" y="818.9" style="font-size:40px">12</text>
<text x="1904.2" y="1596.8" style="font-size:66px;stroke:#fff;stroke-width:2.8px">×</text>
<text x="1943.8" y="1587.8">10</text>
<text x="1999.7" y="1562.2" style="font-size:40px">10</text>
<text x="243.3" y="150.4" text-anchor="end">1000</text>
<text x="243.3" y="293.6" text-anchor="end">800</text>
<text x="243.3" y="436.8" text-anchor="end">600</text>
<text x="243.3" y="579.9" text-anchor="end">400</text>
<text x="243.3" y="723.1" text-anchor="end">200</text>
<text x="240.8" y="884.4" text-anchor="end">1000</text>
<text x="240.8" y="1028.0" text-anchor="end">800</text>
<text x="240.8" y="1171.5" text-anchor="end">600</text>
<text x="240.8" y="1315.1" text-anchor="end">400</text>
<text x="240.8" y="1458.6" text-anchor="end">200</text>
<text x="259.5" y="1577" text-anchor="middle">25</text>
<text x="420.6" y="1577" text-anchor="middle">30</text>
<text x="581.6" y="1577" text-anchor="middle">35</text>
<text x="742.7" y="1577" text-anchor="middle">40</text>
<text x="903.8" y="1577" text-anchor="middle">45</text>
<text x="580.1" y="1636" text-anchor="middle">Latitude (degree)</text>
<text x="1151.0" y="1577" text-anchor="middle">25</text>
<text x="1312.0" y="1577" text-anchor="middle">30</text>
<text x="1473.0" y="1577" text-anchor="middle">35</text>
<text x="1634.0" y="1577" text-anchor="middle">40</text>
<text x="1795.0" y="1577" text-anchor="middle">45</text>
<text x="1471.5" y="1636" text-anchor="middle">Latitude (degree)</text>
<text transform="translate(110.8 453.6) rotate(-90)" text-anchor="middle" style="letter-spacing:0.33px">Altitude (km)</text>
<text transform="translate(108.3 1188.5) rotate(-90)" text-anchor="middle" style="letter-spacing:0.33px">Altitude (km)</text>
<text x="887.2" y="214" text-anchor="end" style="fill:#fff;font-size:50.5px">(a) OBS-CIT</text>
<text x="1778" y="208.6" text-anchor="end" style="fill:#fff;font-size:50.5px">(b) VRS-CIT</text>
<text x="732" y="948.4" style="fill:#fff;font-size:50.5px">(c) IRI</text>
<text x="1777.5" y="938.6" text-anchor="end" style="fill:#fff;font-size:50.5px">(d) OBS-CIT</text>
<text x="1777.5" y="1006.4" text-anchor="end" style="fill:#fff;font-size:50.5px">- VRS-CIT</text>
</svg></body></html>
